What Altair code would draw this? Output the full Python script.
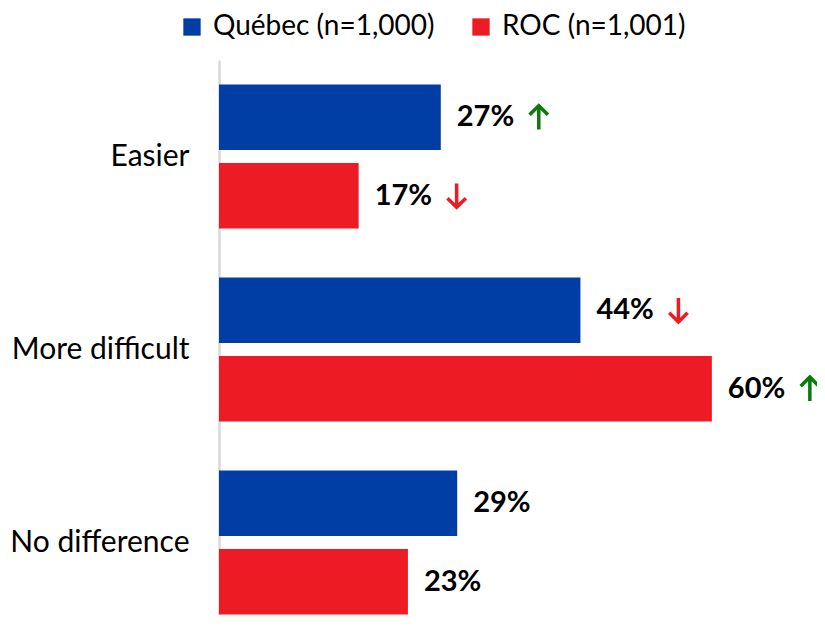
import altair as alt
import pandas as pd

categories = ["Easier", "More difficult", "No difference"]
series = ["Québec (n=1,000)", "ROC (n=1,001)"]
quebec = [27, 44, 29]
roc = [17, 60, 23]
quebec_arrow = ["up", "down", ""]
roc_arrow = ["down", "up", ""]
colors = ["#003DA5", "#ED1C24"]

rows = []
for i, c in enumerate(categories):
    rows.append({"cat": c, "series": series[0], "value": quebec[i], "arrow": quebec_arrow[i]})
    rows.append({"cat": c, "series": series[1], "value": roc[i], "arrow": roc_arrow[i]})
df = pd.DataFrame(rows)
df["label"] = df["value"].astype(str) + "%"

FONT = "Lato"

y_enc = alt.Y("cat:N", sort=categories, title=None,
              scale=alt.Scale(range=[0, 579], paddingInner=0, paddingOuter=0),
              axis=alt.Axis(ticks=False, labelPadding=30, labelFontSize=30, labelFont=FONT,
                            labelColor="#000000", domainColor="#D9D9D9", domainWidth=2.5,
                            labelLimit=300))
yoff = alt.YOffset("series:N", sort=series,
                   scale=alt.Scale(paddingInner=0.1667, paddingOuter=0.314))
x_enc = alt.X("value:Q", scale=alt.Scale(domain=[0, 72.8], nice=False), axis=None)

base = alt.Chart(df).encode(y=y_enc, yOffset=yoff, x=x_enc)

bars = base.mark_bar().encode(
    color=alt.Color("series:N", sort=series,
                    scale=alt.Scale(domain=series, range=colors),
                    legend=alt.Legend(title=None, orient="none", direction="horizontal",
                                      legendX=-41, legendY=-47, symbolType="square",
                                      symbolSize=300, symbolStrokeWidth=0,
                                      labelFontSize=28, labelFont=FONT, labelColor="#000000",
                                      labelLimit=400, columnPadding=32, labelOffset=7))
)

labels = base.mark_text(align="left", baseline="middle", dx=16, fontSize=29,
                        fontWeight="bold", font=FONT, color="#000000").encode(
    text="label:N")

UP = "M0,1 L0,-0.9 M-0.75,-0.2 L0,-0.95 L0.75,-0.2"
DOWN = "M0,-1 L0,0.9 M-0.75,0.2 L0,0.95 L0.75,0.2"

up = base.transform_filter(alt.datum.arrow == "up").mark_point(
    shape=UP, filled=False, size=600, strokeWidth=3.5, opacity=1,
    color="#0A7A0A", xOffset=98)

down = base.transform_filter(alt.datum.arrow == "down").mark_point(
    shape=DOWN, filled=False, size=600, strokeWidth=3.5, opacity=1,
    color="#ED1C24", xOffset=98)

chart = alt.layer(bars, labels, up, down).properties(
    width=598, height=555,
    autosize=alt.AutoSizeParams(type="none"),
    padding={"left": 211, "top": 52, "right": 0, "bottom": 0},
).configure_view(stroke=None)

chart.save("out.html", embed_options={"renderer": "svg", "actions": False})
